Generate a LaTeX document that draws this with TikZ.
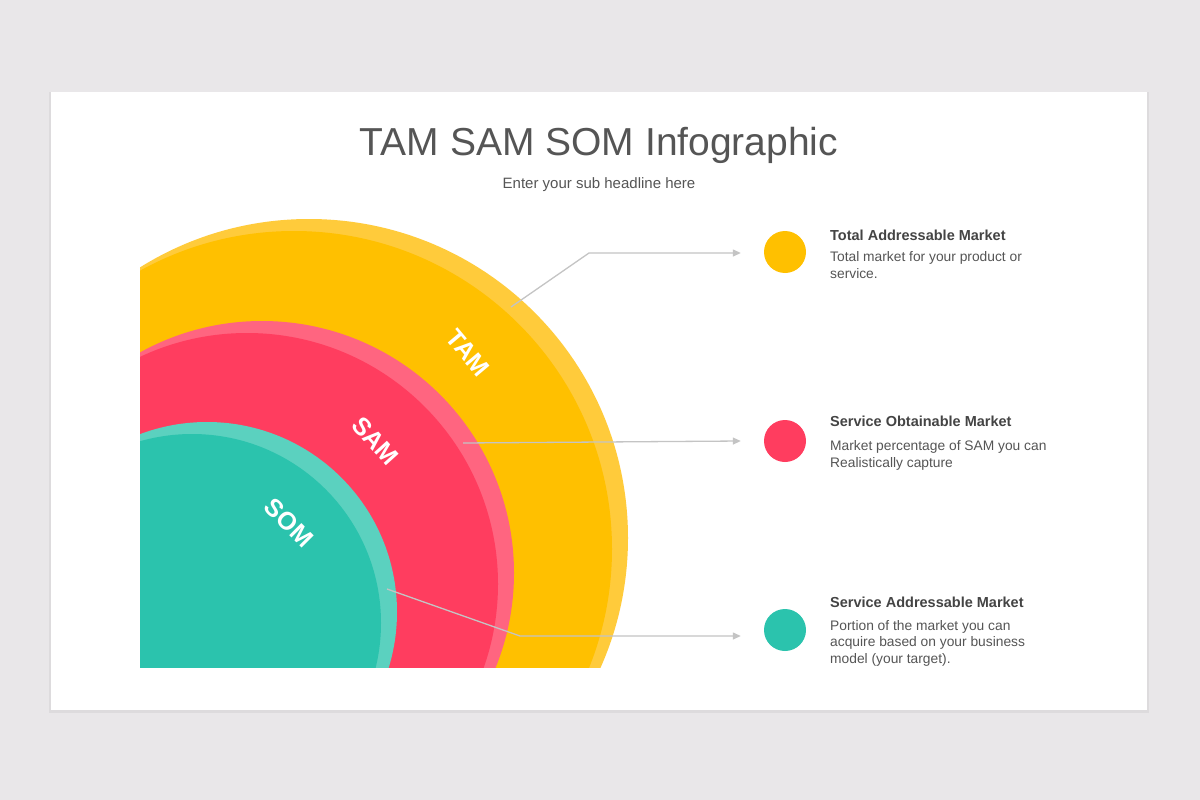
\documentclass[tikz,border=0pt]{standalone}
\usepackage{fontspec}
\setmainfont{Liberation Sans}
\usetikzlibrary{arrows.meta,positioning}
\definecolor{bgcol}{HTML}{E9E7E9}
\definecolor{tamcol}{HTML}{FFC000}
\definecolor{tamlight}{HTML}{FFCB3B}
\definecolor{samcol}{HTML}{FF3D5F}
\definecolor{samlight}{HTML}{FF6580}
\definecolor{somcol}{HTML}{2BC3AD}
\definecolor{somlight}{HTML}{5BD1BF}
\definecolor{textcol}{HTML}{555555}
\definecolor{headcol}{HTML}{444444}
\definecolor{linecol}{HTML}{C4C4C4}

\begin{document}
\begin{tikzpicture}[x=1pt,y=-1pt,>={Triangle[length=8pt,width=7pt]},
	conn/.style={draw=linecol,line width=1.3pt},
	dot/.style={circle,minimum size=42pt,inner sep=0pt},
	ring/.style={font=\fontsize{25}{25}\selectfont\bfseries,text=white,inner sep=0pt},
	head/.style={font=\fontsize{14.5}{17}\selectfont\bfseries,text=headcol,anchor=base west,inner sep=0pt},
	body/.style={font=\fontsize{13.8}{16.6}\selectfont,text=textcol,anchor=base west,align=left,inner sep=0pt}]
%	\draw [help lines] (0,0) grid (1200,800);
	\useasboundingbox (0,0) rectangle (1200,800);
	\fill [bgcol] (0,0) rectangle (1200,800);
	\fill [black,opacity=0.05] (49,92) rectangle (1149,713);
	\fill [white] (51,92) rectangle (1147,710);
	% rings
	\begin{scope}
		\clip (140,150) rectangle (700,667);
		\fill [tamlight] (309,538) circle (319pt);
		\fill [tamcol] (294,549) circle (318pt);
		\fill [samlight] (262,573) circle (252pt);
		\fill [samcol] (247,584) circle (251pt);
		\fill [somlight] (207,612) circle (190pt);
		\fill [somcol] (192,623) circle (189pt);
	\end{scope}
	\node [ring, rotate=-50] (tamlbl) at (468,353) {TAM};
	\node [ring, rotate=-48] (samlbl) at (375,441) {SAM};
	\node [ring, rotate=-45] (somlbl) at (289,523) {SOM};
	% titles
	\node [font=\fontsize{39}{39}\selectfont, text=textcol, anchor=base] (title) at (599,155) {TAM SAM SOM Infographic};
	\node [font=\fontsize{15}{17}\selectfont, text=textcol, anchor=base] (subtitle) at (599,188) {Enter your sub headline here};
	% legend (body nodes sit on their last line)
	\node [dot, fill=tamcol] (tamdot) at (785,252) {};
	\node [dot, fill=samcol] (samdot) at (785,441) {};
	\node [dot, fill=somcol] (somdot) at (785,630) {};
	\node [head] (tamhead) at (830,240) {Total Addressable Market};
	\node [body] (tambody) at (830,278) {Total market for your product or\\service.};
	\node [head] (samhead) at (830,426.7) {Service Obtainable Market};
	\node [body] (sambody) at (830,467) {Market percentage of SAM you can\\Realistically capture};
	\node [head] (somhead) at (830,607) {Service Addressable Market};
	\node [body] (sombody) at (830,663.5) {Portion of the market you can\\acquire based on your business\\model (your target).};
	% connectors
	\coordinate (tamtip) at (511,307);
	\coordinate (tambend) at (589,253);
	\coordinate (samtip) at (463,443);
	\coordinate (somtip) at (387,589);
	\coordinate (sombend) at (520,636);
	\draw [conn, ->] (tamtip) -- (tambend) -- ([xshift=-23pt,yshift=-1pt]tamdot.west);
	\draw [conn, ->] (samtip) -- ([xshift=-23pt]samdot.west);
	\draw [conn, ->] (somtip) -- (sombend) -- ([xshift=-23pt,yshift=-6pt]somdot.west);
\end{tikzpicture}
\end{document}
